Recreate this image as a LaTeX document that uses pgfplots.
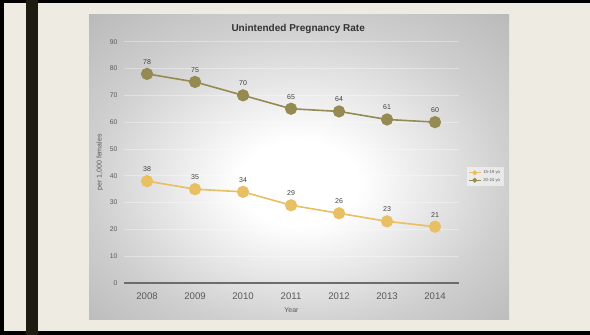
\documentclass[border=0pt]{standalone}
\usepackage{pgfplots}
\pgfplotsset{compat=1.18}
\usepackage{fontspec}
\setmainfont{Liberation Sans}

\definecolor{pagebg}{HTML}{EEEBE3}
\definecolor{darkbar}{HTML}{1C1C12}
\definecolor{teen}{HTML}{E8BF62}
\definecolor{young}{HTML}{958A52}
\definecolor{ticktext}{HTML}{595959}
\definecolor{labeltext}{HTML}{404040}

% soft white glow fading to grey towards the panel edges
\pgfdeclareradialshading{panelglow}{\pgfpoint{0bp}{-3bp}}{%
  color(0bp)=(white); color(7bp)=(white); color(25bp)=(black!19);
  color(36bp)=(black!27); color(50bp)=(black!27)}

\begin{document}
\begin{tikzpicture}[x=1pt,y=1pt]
  % slide background
  \useasboundingbox (0,0) rectangle (590,335);
  \fill[pagebg] (0,0) rectangle (590,335);
  \fill[black] (0,332) rectangle (590,335);
  \fill[black] (0,0) rectangle (590,4);
  \fill[black] (0,0) rectangle (4,335);
  \fill[darkbar] (26,0) rectangle (38,335);
  % chart panel
  \shade[shading=panelglow] (89,15) rectangle (509,320);

  \begin{axis}[
    at={(124pt,52pt)}, anchor=south west,
    scale only axis, width=335pt, height=241.3pt,
    xmin=-0.48, xmax=6.5, ymin=0, ymax=90,
    axis y line*=left, axis x line*=bottom,
    y axis line style={draw=none},
    x axis line style={draw=gray!85!black, line width=1.3pt},
    xtick={0,...,6},
    xticklabels={2008,2009,2010,2011,2012,2013,2014},
    ytick={0,10,...,90},
    major tick length=0pt,
    ymajorgrids,
    grid style={draw=white, opacity=0.35, line width=0.6pt},
    tick label style={text=ticktext},
    xticklabel style={font=\fontsize{9.6}{11}\selectfont, yshift=-6pt},
    yticklabel style={font=\fontsize{6.8}{8}\selectfont, xshift=-3pt},
    /pgf/number format/assume math mode=true,
    xlabel={Year},
    xlabel style={font=\fontsize{7}{8}\selectfont, text=ticktext, yshift=-1pt},
    ylabel={per 1,000 females},
    ylabel style={font=\fontsize{7}{8}\selectfont, text=ticktext, yshift=0pt},
    title={\textbf{Unintended Pregnancy Rate}},
    title style={font=\fontsize{10}{12}\selectfont, text=black!80, at={(0.52,1)}, yshift=-1pt},
    nodes near coords,
    every node near coord/.append style={font=\fontsize{7}{8}\selectfont, text=labeltext, anchor=south, yshift=5.5pt},
    legend style={at={(1.078,0.441)}, anchor=center, draw=none,
      fill=white, fill opacity=0.5, text opacity=1,
      font=\fontsize{4.3}{5}\selectfont, text=ticktext,
      row sep=-1pt, inner sep=1.5pt},
    legend cell align=left,
    legend image code/.code={
      \draw[#1, line width=1.1pt] (0pt,0pt) -- (12pt,0pt);
      \fill[#1] (6pt,0pt) circle (1.5pt);
    },
    clip=false,
  ]
    \addplot[teen, line width=1.6pt, mark=*, mark size=5.3pt,
      mark options={fill=teen, draw=teen}]
      coordinates {(0,38) (1,35) (2,34) (3,29) (4,26) (5,23) (6,21)};
    \addlegendentry{15-19 yo}
    \addplot[young, line width=1.6pt, mark=*, mark size=5.3pt,
      mark options={fill=young, draw=young}]
      coordinates {(0,78) (1,75) (2,70) (3,65) (4,64) (5,61) (6,60)};
    \addlegendentry{20-24 yo}
  \end{axis}
\end{tikzpicture}
\end{document}
